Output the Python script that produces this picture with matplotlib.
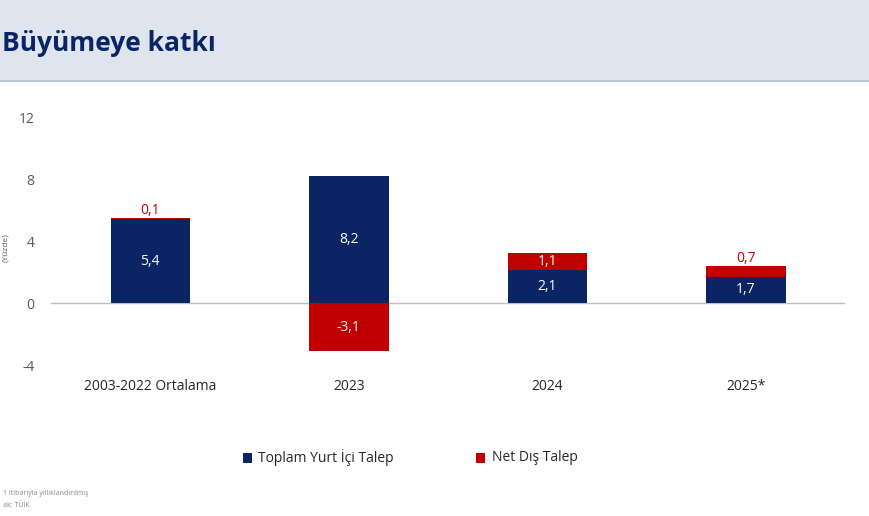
import matplotlib
matplotlib.use("Agg")
import matplotlib.pyplot as plt
from matplotlib.patches import Rectangle

categories = ["2003-2022 Ortalama", "2023", "2024", "2025*"]
domestic = [5.4, 8.2, 2.1, 1.7]
external = [0.1, -3.1, 1.1, 0.7]
yticks = [-4, 0, 4, 8, 12]

navy = "#0b2464"
red = "#c00000"
plt.rcParams["font.family"] = "Open Sans"

fig = plt.figure(figsize=(8.7, 5.16), dpi=100)
fig.patches.append(Rectangle((0, 0.845), 1, 0.155, transform=fig.transFigure,
                             facecolor="#dfe5ef", edgecolor="none", zorder=0))
fig.patches.append(Rectangle((0, 0.841), 1, 0.004, transform=fig.transFigure,
                             facecolor="#b8c4d8", edgecolor="none", zorder=0))
fig.text(0.002, 0.915, "Büyümeye katkı", fontsize=19, fontweight="bold", color=navy, va="center")

ax = fig.add_axes([0.0586, 0.2926, 0.913, 0.4806])
x = list(range(len(categories)))
w = 0.4
ax.bar(x, domestic, width=w, color=navy, zorder=2)
bottoms = [d if e > 0 else 0 for d, e in zip(domestic, external)]
ax.bar(x, external, width=w, bottom=bottoms, color=red, zorder=2)

for i, (d, e) in enumerate(zip(domestic, external)):
    ax.text(i, d / 2, f"{d:.1f}".replace(".", ","), color="white", ha="center", va="center", fontsize=10)
    lab = f"{e:.1f}".replace(".", ",")
    if e < 0:
        ax.text(i, e / 2, lab, color="white", ha="center", va="center", fontsize=10)
    elif e >= 1:
        ax.text(i, d + e / 2, lab, color="white", ha="center", va="center", fontsize=10)
    else:
        ax.text(i, d + e + 0.5, lab, color=red, ha="center", va="center", fontsize=10)

ax.set_xlim(-0.5, 3.5)
ax.set_ylim(-4, 12)
ax.set_yticks(yticks)
ax.set_yticklabels([str(t) for t in yticks], color="#595959", fontsize=10)
ax.axhline(0, color="#bfbfbf", lw=1, zorder=1)
ax.set_xticks(x)
ax.set_xticklabels(categories, fontsize=10, color="#262626")
ax.tick_params(length=0, axis="both")
ax.tick_params(axis="x", pad=10)
ax.tick_params(axis="y", pad=12)
for s in ax.spines.values():
    s.set_visible(False)
fig.text(0.007, 0.52, "(Yüzde)", rotation=90, fontsize=6, color="#595959", va="center", ha="center")

fig.patches.append(Rectangle((0.279, 0.103), 0.011, 0.02, transform=fig.transFigure, facecolor=navy, edgecolor="none"))
fig.text(0.297, 0.113, "Toplam Yurt İçi Talep", fontsize=10, va="center", color="#262626")
fig.patches.append(Rectangle((0.547, 0.103), 0.011, 0.02, transform=fig.transFigure, facecolor=red, edgecolor="none"))
fig.text(0.565, 0.113, "Net Dış Talep", fontsize=10, va="center", color="#262626")

fig.text(0.003, 0.04, "1 itibarıyla yıllıklandırılmış", fontsize=5, color="#888888")
fig.text(0.003, 0.018, "ak: TÜİK", fontsize=5, color="#888888")

fig.savefig("out.png", dpi=100)
